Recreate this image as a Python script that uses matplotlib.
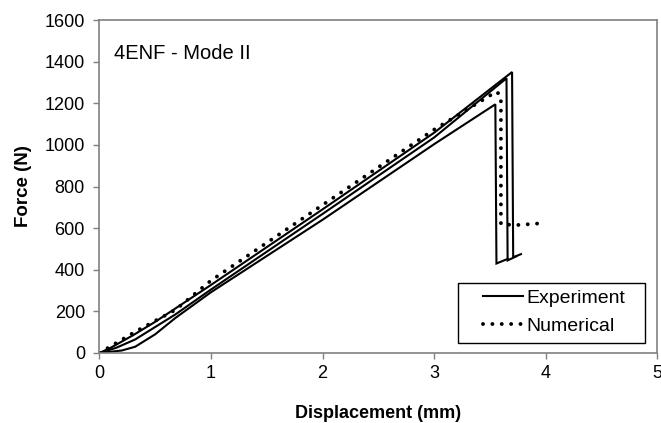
import matplotlib
matplotlib.use("Agg")
import matplotlib.pyplot as plt
from matplotlib.patches import Rectangle

# Experiment curves (displacement mm, force N)
exp1_x = [0, 0.1, 0.3, 0.5, 1.0, 2.0, 3.0, 3.70, 3.71, 3.78]
exp1_y = [0, 25, 85, 150, 327, 690, 1058, 1350, 460, 475]
exp2_x = [0, 0.15, 0.32, 0.68, 1.0, 2.0, 3.0, 3.65, 3.66, 3.74]
exp2_y = [0, 25, 65, 185, 305, 668, 1035, 1320, 445, 465]
exp3_x = [0, 0.2, 0.32, 0.5, 0.68, 1.0, 2.0, 3.0, 3.55, 3.56, 3.66]
exp3_y = [0, 12, 30, 90, 168, 292, 640, 1003, 1195, 430, 452]
# Numerical
num_x = [0, 0.32, 0.68, 1.0, 2.0, 3.0, 3.56, 3.60, 3.60, 3.75, 3.93]
num_y = [0, 102, 207, 348, 711, 1073, 1256, 1235, 618, 615, 622]

x_ticks = [0, 1, 2, 3, 4, 5]
y_ticks = [0, 200, 400, 600, 800, 1000, 1200, 1400, 1600]

plt.rcParams['font.family'] = ['Liberation Sans', 'DejaVu Sans']

fig = plt.figure(figsize=(6.61, 4.23), dpi=100)
ax = fig.add_axes([0.1505, 0.1655, 0.8435, 0.7872])

ax.plot(exp1_x, exp1_y, color='black', lw=1.5, solid_joinstyle='miter', label='Experiment')
ax.plot(exp2_x, exp2_y, color='black', lw=1.5, solid_joinstyle='miter')
ax.plot(exp3_x, exp3_y, color='black', lw=1.5, solid_joinstyle='miter')
ax.plot(num_x, num_y, color='black', lw=2.8, linestyle=(0, (0.01, 2.4)),
        dash_capstyle='round', label='Numerical')

ax.set_xlim(0, 5)
ax.set_ylim(0, 1600)
ax.set_xticks(x_ticks)
ax.set_yticks(y_ticks)
ax.tick_params(direction='out', length=4.5, width=1, color='#808080', labelsize=13)
ax.tick_params(axis='y', pad=6)
ax.tick_params(axis='x', pad=4)
for s in ax.spines.values():
    s.set_color('#808080')
    s.set_linewidth(1.2)

ax.set_xlabel('Displacement (mm)', fontsize=13, fontweight='bold', labelpad=17)
ax.set_ylabel('Force (N)', fontsize=13.5, fontweight='bold', labelpad=9)

ax.text(0.026, 0.90, '4ENF - Mode II', transform=ax.transAxes, fontsize=14.5,
        va='center', ha='left')

# legend frame
ax.add_patch(Rectangle((0.643, 0.030), 0.335, 0.180, transform=ax.transAxes,
                       facecolor='white', edgecolor='black', lw=1.0, zorder=4))
leg = ax.legend(loc='center left', bbox_to_anchor=(0.688, 0.123), fontsize=14,
                frameon=False, handlelength=2.05, handletextpad=0.2, borderpad=0,
                labelspacing=0.5, borderaxespad=0)
leg.set_zorder(5)

fig.savefig('out.png', dpi=100)
